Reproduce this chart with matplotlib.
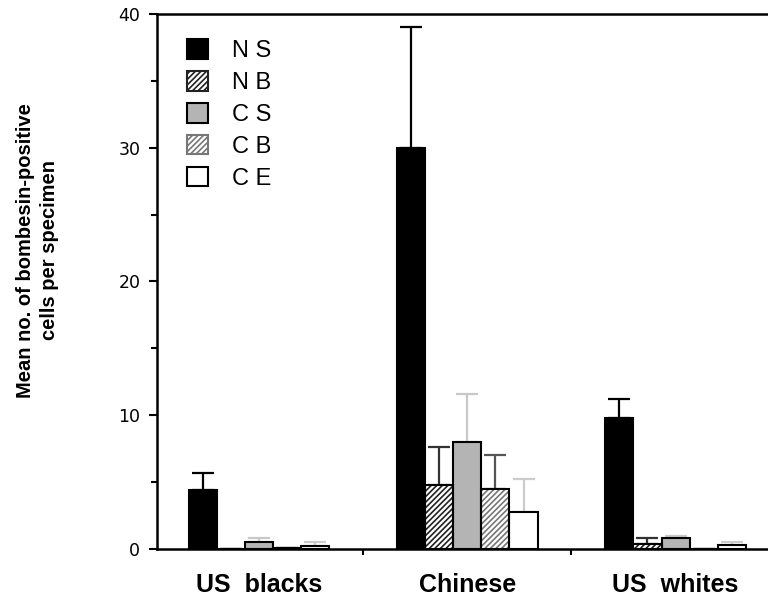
import numpy as np
import matplotlib
matplotlib.use('Agg')
import matplotlib.pyplot as plt
from matplotlib.patches import Patch

groups = ['US  blacks', 'Chinese', 'US  whites']
series = ['N S', 'N B', 'C S', 'C B', 'C E']

# mean values per series, one entry per group
ns = [4.4, 30.0, 9.8]
nb = [0.0, 4.8, 0.4]
cs = [0.5, 8.0, 0.8]
cb = [0.1, 4.5, 0.0]
ce = [0.2, 2.8, 0.3]

# upper error (SE) per series
ns_err = [1.3, 9.0, 1.4]
nb_err = [0.0, 2.8, 0.4]
cs_err = [0.3, 3.6, 0.2]
cb_err = [0.0, 2.5, 0.0]
ce_err = [0.3, 2.4, 0.2]

values = [ns, nb, cs, cb, ce]
errors = [ns_err, nb_err, cs_err, cb_err, ce_err]

# style per series: face, hatch colour, hatch, errbar colour
styles = [
    dict(face='black', hcol='black', hatch=None, ecol='black'),
    dict(face='white', hcol='#222222', hatch='//////', ecol='#333333'),
    dict(face='#b4b4b4', hcol='#b4b4b4', hatch=None, ecol='#c8c8c8'),
    dict(face='white', hcol='#777777', hatch='//////', ecol='#555555'),
    dict(face='white', hcol='white', hatch=None, ecol='#cccccc'),
]

plt.rcParams['font.family'] = ['Liberation Sans', 'DejaVu Sans']
plt.rcParams['hatch.linewidth'] = 1.2

fig = plt.figure(figsize=(7.68, 6.0), dpi=100)
ax = fig.add_axes([0.2044, 0.085, 0.80, 0.8917])

x = np.arange(len(groups))
w = 0.135
offsets = (np.arange(len(series)) - 2) * w

for i, st in enumerate(styles):
    xs = x + offsets[i]
    if st['hatch']:
        ax.bar(xs, values[i], w, color=st['face'], edgecolor=st['hcol'],
               hatch=st['hatch'], linewidth=0, zorder=2)
    else:
        ax.bar(xs, values[i], w, color=st['face'], linewidth=0, zorder=2)
    ax.bar(xs, values[i], w, fill=False, edgecolor='black', linewidth=1.5, zorder=3)
    yerr = np.array([np.zeros(len(groups)), errors[i]])
    ax.errorbar(xs, values[i], yerr=yerr, fmt='none', ecolor=st['ecol'],
                elinewidth=1.6, capsize=8, capthick=1.6, zorder=1)

ax.set_xlim(-0.49, 2.46)
ax.set_ylim(0, 40)
ax.set_yticks([0, 10, 20, 30, 40])
ax.set_yticks([5, 15, 25, 35], minor=True)
ax.set_xticks([0.5, 1.5])
ax.set_xticklabels([])
ax.tick_params(axis='y', which='major', direction='out', length=6, width=1.5,
               labelsize=12.5, pad=6)
ax.tick_params(axis='y', which='minor', direction='out', length=4, width=1.5)
ax.tick_params(axis='x', direction='out', length=4, width=1.5)
for lab in ax.get_yticklabels():
    lab.set_family('DejaVu Sans')
for sp in ['left', 'top', 'bottom']:
    ax.spines[sp].set_linewidth(1.8)
ax.spines['right'].set_visible(False)

for xi, g in zip(x, groups):
    ax.text(xi, -1.8, g, ha='center', va='top', fontsize=18, fontweight='bold')

fig.text(0.049, 0.583, 'Mean no. of bombesin-positive\ncells per specimen',
         rotation=90, ha='center', va='center', fontsize=14.5,
         fontweight='bold', linespacing=1.35)

handles = []
for st in styles:
    if st['hatch']:
        handles.append(Patch(facecolor='white', edgecolor=st['hcol'],
                             hatch=st['hatch'], linewidth=1.5))
    else:
        handles.append(Patch(facecolor=st['face'], edgecolor='black', linewidth=1.5))
leg = ax.legend(handles, series, loc='upper left', bbox_to_anchor=(0.049, 0.953),
                frameon=False, fontsize=17, handlelength=0.9, handleheight=0.9,
                labelspacing=0.38, handletextpad=1.0, borderpad=0, borderaxespad=0)

fig.savefig('out.png', dpi=100)
